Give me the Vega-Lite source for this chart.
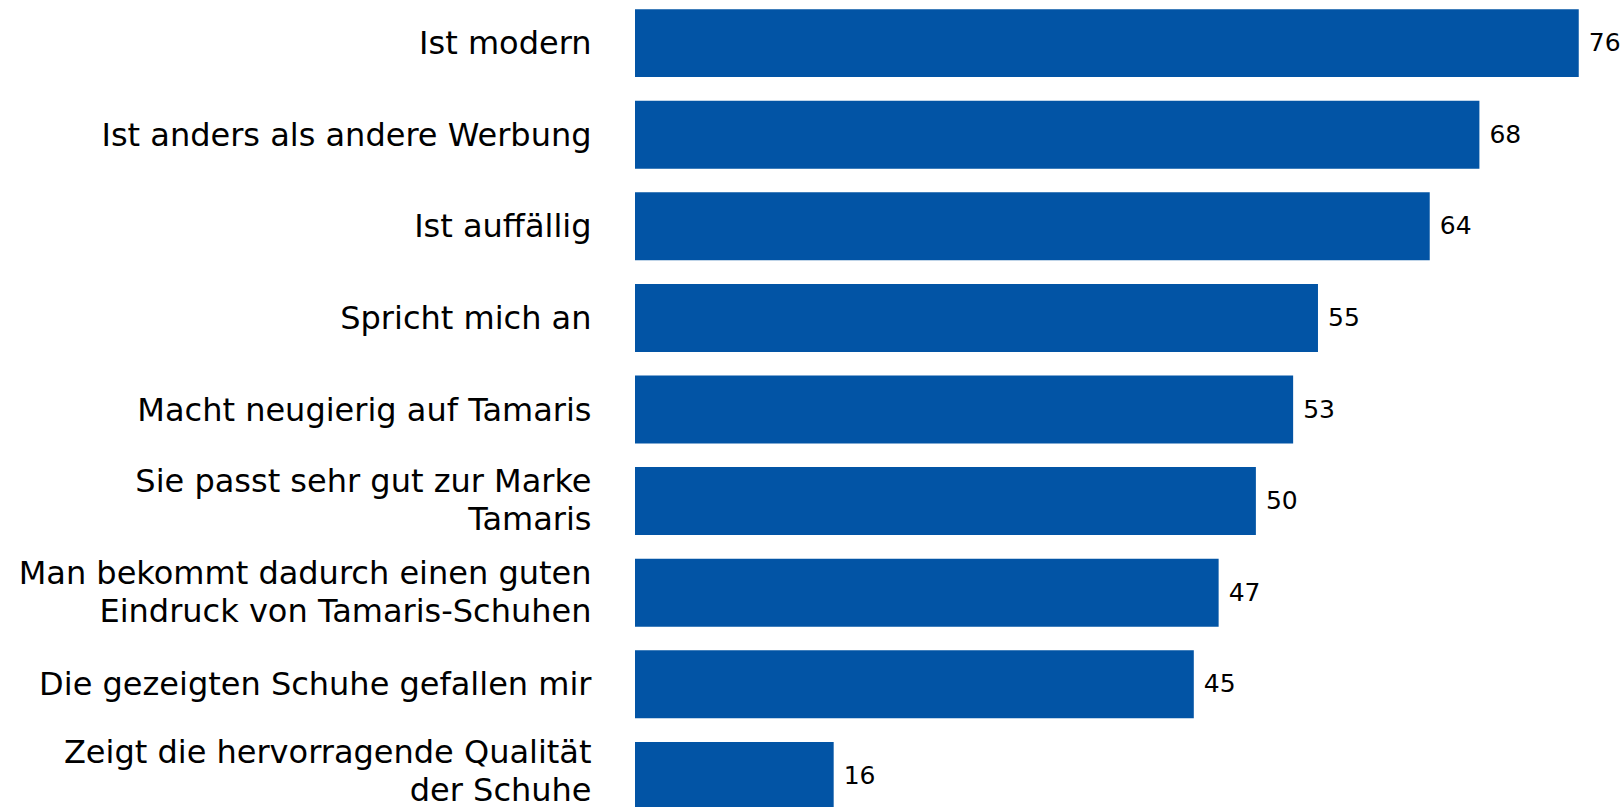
{
  "$schema": "https://vega.github.io/schema/vega-lite/v6.json",
  "autosize": {"type": "none"},
  "padding": {"left": 635, "right": 8, "top": 0, "bottom": 0},
  "width": 981,
  "height": 807,
  "background": "white",
  "config": {"view": {"stroke": null}},
  "data": {
    "values": [
      {"label": "Ist modern", "value": 76},
      {"label": "Ist anders als andere Werbung", "value": 68},
      {"label": "Ist auffällig", "value": 64},
      {"label": "Spricht mich an", "value": 55},
      {"label": "Macht neugierig auf Tamaris", "value": 53},
      {"label": "Sie passt sehr gut zur Marke|Tamaris", "value": 50},
      {"label": "Man bekommt dadurch einen guten|Eindruck von Tamaris-Schuhen", "value": 47},
      {"label": "Die gezeigten Schuhe gefallen mir", "value": 45},
      {"label": "Zeigt die hervorragende Qualität|der Schuhe", "value": 16}
    ]
  },
  "encoding": {
    "y": {
      "field": "label",
      "type": "nominal",
      "sort": null,
      "scale": {"range": [0, 819], "paddingInner": 0.258, "paddingOuter": 0.1},
      "axis": {
        "title": null,
        "domain": false,
        "ticks": false,
        "labelPadding": 44,
        "labelFont": "DejaVu Sans",
        "labelFontSize": 32,
        "labelColor": "#000000",
        "labelLimit": 700,
        "labelLineHeight": 38,
        "labelOffset": {"condition": [
          {"test": "indexof(datum.label, 'Zeigt') >= 0", "value": -23},
          {"test": "indexof(datum.label, '|') >= 0", "value": -19}
        ], "value": 1},
        "labelExpr": "split(datum.label, '|')"
      }
    },
    "x": {
      "field": "value",
      "type": "quantitative",
      "scale": {"domain": [0, 79], "nice": false},
      "axis": null
    }
  },
  "layer": [
    {"mark": {"type": "bar", "color": "#0254a5"}},
    {
      "mark": {"type": "text", "align": "left", "baseline": "middle", "dx": 10, "font": "DejaVu Sans", "fontSize": 25, "color": "#000000"},
      "encoding": {"text": {"field": "value", "type": "quantitative"}}
    }
  ]
}
